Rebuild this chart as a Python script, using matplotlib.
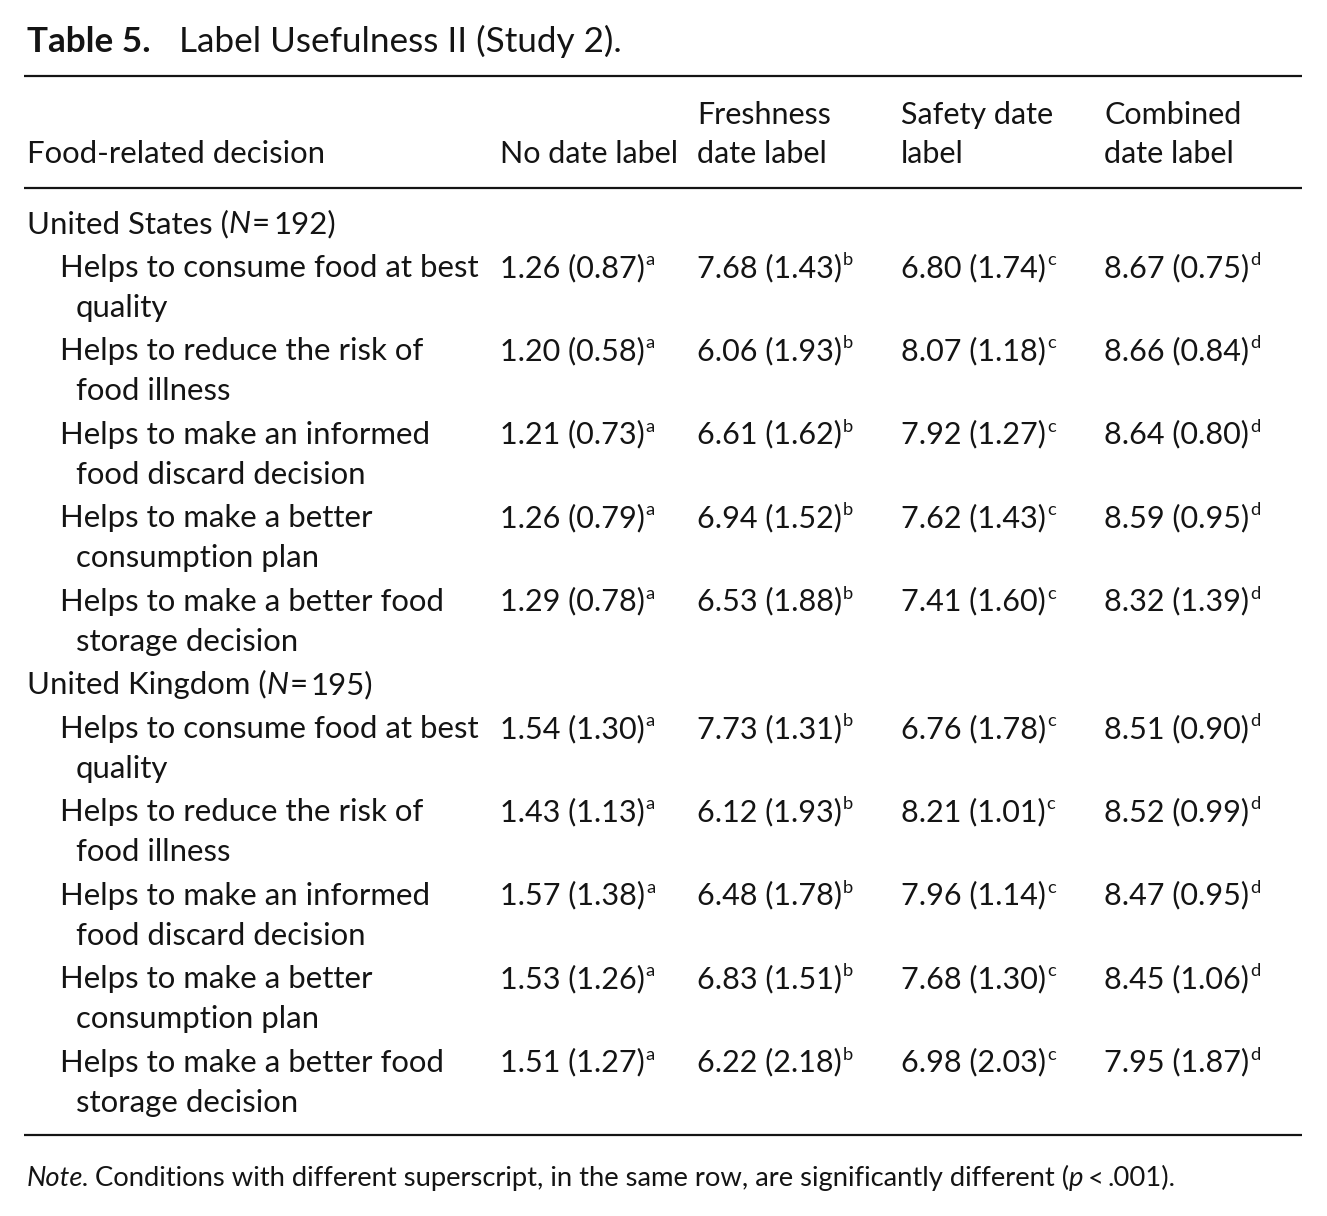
import matplotlib
matplotlib.use("Agg")
import matplotlib.pyplot as plt

# table content
title_bold = "Table 5."
title_rest = "Label Usefulness II (Study 2)."
first_header = "Food-related decision"
col_headers = [("", "No date label"), ("Freshness", "date label"),
               ("Safety date", "label"), ("Combined", "date label")]
group_names = ["United States", "United Kingdom"]
group_n = [192, 195]
row_labels = [("Helps to consume food at best", "quality"),
              ("Helps to reduce the risk of", "food illness"),
              ("Helps to make an informed", "food discard decision"),
              ("Helps to make a better", "consumption plan"),
              ("Helps to make a better food", "storage decision")]
us_means = [[1.26, 7.68, 6.80, 8.67],
            [1.20, 6.06, 8.07, 8.66],
            [1.21, 6.61, 7.92, 8.64],
            [1.26, 6.94, 7.62, 8.59],
            [1.29, 6.53, 7.41, 8.32]]
us_sds = [[0.87, 1.43, 1.74, 0.75],
          [0.58, 1.93, 1.18, 0.84],
          [0.73, 1.62, 1.27, 0.80],
          [0.79, 1.52, 1.43, 0.95],
          [0.78, 1.88, 1.60, 1.39]]
uk_means = [[1.54, 7.73, 6.76, 8.51],
            [1.43, 6.12, 8.21, 8.52],
            [1.57, 6.48, 7.96, 8.47],
            [1.53, 6.83, 7.68, 8.45],
            [1.51, 6.22, 6.98, 7.95]]
uk_sds = [[1.30, 1.31, 1.78, 0.90],
          [1.13, 1.93, 1.01, 0.99],
          [1.38, 1.78, 1.14, 0.95],
          [1.26, 1.51, 1.30, 1.06],
          [1.27, 2.18, 2.03, 1.87]]
superscripts = ["a", "b", "c", "d"]

FONT = "Lato"
FS = 22
LABEL_FS = 22.4
INK = "#141414"
W, H = 1327, 1216

fig = plt.figure(figsize=(W / 100, H / 100), dpi=100)
ax = fig.add_axes([0, 0, 1, 1])
ax.set_xlim(0, W)
ax.set_ylim(H, 0)
ax.axis("off")
renderer = fig.canvas.get_renderer()


def write_runs(x, y, runs, size=FS):
    # draw pieces of text one after another on the same baseline
    for txt, style, weight, gap in runs:
        x += gap
        t = ax.text(x, y, txt, fontsize=size, family=FONT, fontstyle=style,
                    fontweight=weight, va="baseline", ha="left", color=INK)
        bb = t.get_window_extent(renderer)
        x = ax.transData.inverted().transform((bb.x1, 0))[0]
    return x


def value_cell(x, y, m, s, sup):
    end = write_runs(x, y, [(f"{m:.2f} ({s:.2f})", "normal", "normal", 0)])
    ax.text(end + 1, y - 12, sup, fontsize=FS * 0.6, family=FONT,
            va="baseline", ha="left", color=INK)


# title
write_runs(27, 52, [(title_bold, "normal", "bold", 0),
                    (title_rest, "normal", "normal", 28)], size=25.3)

# rules
for yy in [76, 188, 1135]:
    ax.plot([24, 1302], [yy, yy], color=INK, lw=1.6, solid_capstyle="butt")

# header
col_x = [500, 697, 901, 1104]
ax.text(27, 163, first_header, fontsize=LABEL_FS, family=FONT, va="baseline", color=INK)
for cx, (l1, l2) in zip(col_x, col_headers):
    ax.text(cx, 124, l1, fontsize=FS, family=FONT, va="baseline", color=INK)
    ax.text(cx, 163, l2, fontsize=FS, family=FONT, va="baseline", color=INK)

group_y = [233, 694]
for g, (name, n, means, sds) in enumerate(zip(group_names, group_n,
                                             [us_means, uk_means], [us_sds, uk_sds])):
    gy = group_y[g]
    write_runs(27, gy, [(name + " (", "normal", "normal", 0),
                        ("N", "italic", "normal", 0),
                        ("=", "normal", "normal", 1),
                        (str(n) + ")", "normal", "normal", 3)], size=LABEL_FS)
    for i, (l1, l2) in enumerate(row_labels):
        ry = gy + 44 + i * 83.4
        ax.text(60, ry, l1, fontsize=LABEL_FS, family=FONT, va="baseline", color=INK)
        ax.text(76, ry + 40, l2, fontsize=LABEL_FS, family=FONT, va="baseline", color=INK)
        for j, cx in enumerate(col_x):
            value_cell(cx, ry, means[i][j], sds[i][j], superscripts[j])

# note
write_runs(27, 1186, [("Note.", "italic", "normal", 0),
                      ("Conditions with different superscript, in the same row, are significantly different (",
                       "normal", "normal", 5),
                      ("p", "italic", "normal", 0),
                      ("<", "normal", "normal", 4),
                      (".001).", "normal", "normal", 4)], size=19.7)

fig.savefig("out.png", dpi=100)
